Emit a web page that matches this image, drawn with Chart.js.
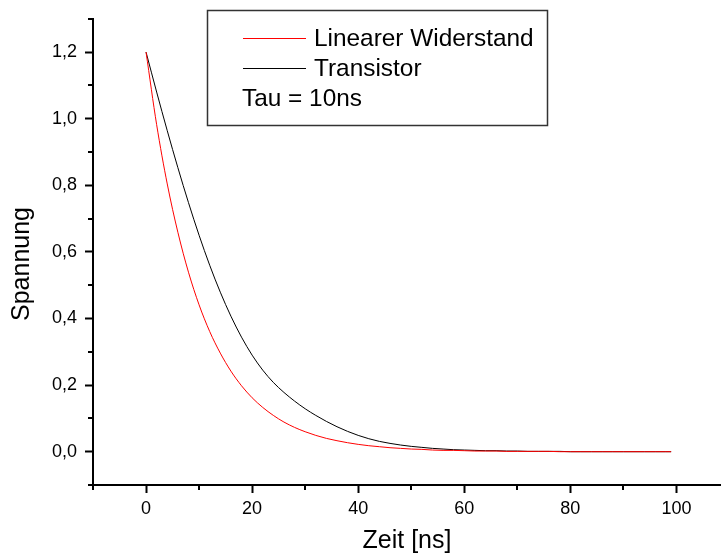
<!DOCTYPE html>
<html>
<head>
<meta charset="utf-8">
<script src="https://cdn.jsdelivr.net/npm/chart.js@4.4.1/dist/chart.umd.min.js"></script>
<style>
  html, body { margin: 0; padding: 0; background: #fff; }
  #wrap { width: 721px; height: 557px; }
</style>
</head>
<body>
<div id="wrap"><canvas id="c" width="721" height="557"></canvas></div>
<script>
// Zeitpunkte in ns
const zeit = [0, 2, 4, 6, 8, 10, 12, 14, 16, 18, 20, 22, 24, 26, 28, 30, 32, 34, 36, 38,
  40, 42, 44, 46, 48, 50, 52, 54, 56, 58, 60, 62, 64, 66, 68, 70, 72, 74, 76, 78,
  80, 82, 84, 86, 88, 90, 92, 94, 96, 98, 99];

// Spannung, linearer Widerstand (rot)
const linear = [1.200, 0.982, 0.804, 0.659, 0.539, 0.441, 0.361, 0.296, 0.242, 0.198,
  0.162, 0.133, 0.109, 0.089, 0.073, 0.060, 0.049, 0.040, 0.033, 0.027,
  0.022, 0.018, 0.015, 0.012, 0.010, 0.008, 0.007, 0.005, 0.004, 0.004,
  0.003, 0.002, 0.002, 0.002, 0.001, 0.001, 0.001, 0.001, 0.001, 0.000,
  0.000, 0.000, 0.000, 0.000, 0.000, 0.000, 0.000, 0.000, 0.000, 0.000, 0.000];

// Spannung, Transistor (schwarz)
const transistor = [1.200, 1.080, 0.964, 0.853, 0.748, 0.650, 0.560, 0.479, 0.407, 0.344,
  0.290, 0.245, 0.208, 0.178, 0.152, 0.129, 0.109, 0.091, 0.075, 0.061,
  0.049, 0.039, 0.031, 0.025, 0.020, 0.016, 0.013, 0.010, 0.008, 0.006,
  0.005, 0.004, 0.003, 0.003, 0.002, 0.002, 0.001, 0.001, 0.001, 0.001,
  0.000, 0.000, 0.000, 0.000, 0.000, 0.000, 0.000, 0.000, 0.000, 0.000, 0.000];

const xTicks = [0, 20, 40, 60, 80, 100];
const xMinor = [-10, 10, 30, 50, 70, 90];
const yTicks = [0, 0.2, 0.4, 0.6, 0.8, 1.0, 1.2];
const yMinor = [-0.1, 0.1, 0.3, 0.5, 0.7, 0.9, 1.1, 1.3];
const yTitle = 'Spannung';
const legendInfo = 'Tau = 10ns';

const FONT = 'Arial, "Liberation Sans", sans-serif';

function toPoints(ys) {
  return zeit.map((t, i) => ({ x: t, y: ys[i] }));
}

// Nebenstriche, y-Titel und Legendenkasten
const extras = {
  id: 'extras',
  afterDraw(chart) {
    const ctx = chart.ctx;
    const xs = chart.scales.x, ys = chart.scales.y;
    ctx.save();
    ctx.strokeStyle = '#000';
    ctx.lineWidth = 2;
    ctx.beginPath();
    xMinor.forEach(v => {
      const px = Math.round(xs.getPixelForValue(v));
      ctx.moveTo(px, xs.top);
      ctx.lineTo(px, xs.top + 5);
    });
    yMinor.forEach(v => {
      const py = Math.round(ys.getPixelForValue(v));
      ctx.moveTo(ys.right, py);
      ctx.lineTo(ys.right - 5, py);
    });
    ctx.stroke();

    // y-Achsentitel
    ctx.save();
    ctx.translate(22, 264);
    ctx.rotate(-Math.PI / 2);
    ctx.font = '25px ' + FONT;
    ctx.fillStyle = '#000';
    ctx.textAlign = 'center';
    ctx.textBaseline = 'middle';
    ctx.fillText(yTitle, 0, 0);
    ctx.restore();

    // Legende
    ctx.fillStyle = '#fff';
    ctx.fillRect(207, 10, 341, 116);
    ctx.strokeStyle = '#333';
    ctx.lineWidth = 1.5;
    ctx.strokeRect(207.5, 10.5, 340, 115);
    ctx.font = '24.4px ' + FONT;
    ctx.textBaseline = 'alphabetic';
    ctx.fillStyle = '#000';
    chart.data.datasets.forEach((ds, i) => {
      const y = 38 + i * 30;
      ctx.strokeStyle = ds.borderColor;
      ctx.lineWidth = 1;
      ctx.beginPath();
      ctx.moveTo(243, y + 0.5);
      ctx.lineTo(306, y + 0.5);
      ctx.stroke();
      ctx.fillText(ds.label, 314, y + 8);
    });
    ctx.fillText(legendInfo, 242, 106);
    ctx.restore();
  }
};

new Chart(document.getElementById('c'), {
  type: 'line',
  data: {
    datasets: [
      {
        label: 'Linearer Widerstand',
        data: toPoints(linear),
        borderColor: '#ff0000',
        borderWidth: 1,
        pointRadius: 0,
        cubicInterpolationMode: 'monotone'
      },
      {
        label: 'Transistor',
        data: toPoints(transistor),
        borderColor: '#000000',
        borderWidth: 1,
        pointRadius: 0,
        cubicInterpolationMode: 'monotone'
      }
    ]
  },
  options: {
    responsive: false,
    animation: false,
    layout: { padding: { top: 13, right: 0, left: 0, bottom: 0 } },
    plugins: { legend: { display: false }, tooltip: { enabled: false } },
    scales: {
      x: {
        type: 'linear',
        min: -10,
        max: 108.4,
        afterFit(scale) { scale.height = 72; },
        afterBuildTicks(scale) { scale.ticks = xTicks.map(v => ({ value: v })); },
        border: { color: '#000', width: 2 },
        grid: { drawOnChartArea: false, drawTicks: true, tickLength: 8, tickWidth: 2, tickColor: '#000' },
        ticks: {
          color: '#000',
          font: { family: FONT, size: 18 },
          padding: 5,
          maxRotation: 0,
          callback: v => String(v)
        },
        title: {
          display: true,
          text: 'Zeit [ns]',
          color: '#000',
          font: { family: FONT, size: 25 },
          padding: { top: 0, bottom: 1 }
        }
      },
      y: {
        type: 'linear',
        min: -0.1,
        max: 1.3,
        afterFit(scale) { scale.width = 93; },
        afterBuildTicks(scale) { scale.ticks = yTicks.map(v => ({ value: v })); },
        border: { color: '#000', width: 2 },
        grid: { drawOnChartArea: false, drawTicks: true, tickLength: 8, tickWidth: 2, tickColor: '#000' },
        ticks: {
          color: '#000',
          font: { family: FONT, size: 18 },
          padding: 8,
          callback: v => v.toFixed(1).replace('.', ',')
        },
        title: { display: false }
      }
    }
  },
  plugins: [extras]
});
</script>
</body>
</html>
